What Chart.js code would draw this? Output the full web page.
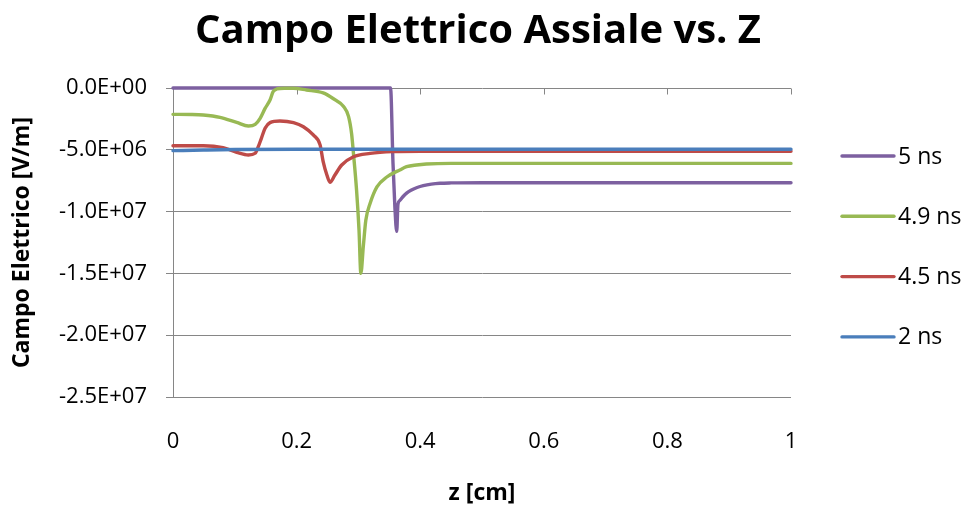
<!DOCTYPE html>
<html>
<head>
<meta charset="utf-8">
<script src="https://cdn.jsdelivr.net/npm/chart.js@4.4.0/dist/chart.umd.min.js"></script>
<style>
  html, body { margin: 0; padding: 0; background: #ffffff; }
  canvas { display: block; }
</style>
</head>
<body>
<canvas id="chart" width="966" height="508"></canvas>
<script>
// Axial electric field along z at four time instants
const seriesNames  = ['5 ns', '4.9 ns', '4.5 ns', '2 ns'];
const seriesColors = ['#7D60A0', '#98B954', '#BE4B48', '#4A7EBB'];

// t = 5 ns
const z5 = [0, 0.352, 0.356, 0.359, 0.362, 0.364, 0.367, 0.372, 0.378, 0.386, 0.395, 0.405, 0.418, 0.432, 0.45, 0.5, 0.6, 0.8, 1];
const e5 = [0, 0, -6.1e6, -9.6e6, -11.6e6, -9.4e6, -9.1e6, -8.8e6, -8.5e6, -8.25e6, -8.05e6, -7.9e6, -7.78e6, -7.71e6, -7.68e6, -7.66e6, -7.66e6, -7.66e6, -7.66e6];

// t = 4.9 ns
const z49 = [0, 0.03, 0.049, 0.076, 0.103, 0.122, 0.133, 0.141, 0.149, 0.157,
             0.162, 0.168, 0.18, 0.195, 0.216, 0.243, 0.259, 0.276, 0.284, 0.289,
             0.292, 0.297, 0.301, 0.304, 0.308, 0.312, 0.319, 0.33, 0.346, 0.367,
             0.378, 0.394, 0.41, 0.45, 0.5, 0.6, 0.8, 1];
const e49 = [-2.13e6, -2.14e6, -2.18e6, -2.37e6, -2.78e6, -3.07e6, -2.94e6, -2.45e6, -1.65e6, -0.97e6,
             -0.3e6, -0.08e6, -0.02e6, -0.02e6, -0.16e6, -0.4e6, -0.85e6, -1.5e6, -2.3e6, -3.7e6,
             -5.3e6, -8.25e6, -11.5e6, -15.0e6, -12.8e6, -10.7e6, -9.33e6, -8.0e6, -7.2e6, -6.63e6,
             -6.37e6, -6.23e6, -6.15e6, -6.1e6, -6.1e6, -6.1e6, -6.1e6, -6.1e6];

// t = 4.5 ns
const z45 = [0, 0.049, 0.081, 0.103, 0.122, 0.133, 0.138, 0.143, 0.149, 0.157,
             0.173, 0.195, 0.211, 0.227, 0.238, 0.243, 0.249, 0.254, 0.262, 0.273,
             0.292, 0.319, 0.356, 0.4, 0.5, 0.6, 0.8, 1];
const e45 = [-4.67e6, -4.67e6, -4.83e6, -5.2e6, -5.42e6, -5.28e6, -4.75e6, -4.07e6, -3.26e6, -2.8e6,
             -2.67e6, -2.8e6, -3.13e6, -3.8e6, -4.6e6, -5.96e6, -7.04e6, -7.63e6, -7.04e6, -6.23e6,
             -5.56e6, -5.29e6, -5.15e6, -5.12e6, -5.12e6, -5.12e6, -5.12e6, -5.12e6];

// t = 2 ns
const z2 = [0, 0.049, 0.1, 0.2, 0.4, 0.6, 0.8, 1];
const e2 = [-5.07e6, -5.02e6, -4.98e6, -4.96e6, -4.96e6, -4.96e6, -4.96e6, -4.96e6];

const xTickValues = [0, 0.2, 0.4, 0.6, 0.8, 1];
const xTickLabels = ['0', '0.2', '0.4', '0.6', '0.8', '1'];
const yTickValues = [-2.5e7, -2.0e7, -1.5e7, -1.0e7, -5.0e6, 0];
const yTickLabels = ['-2.5E+07', '-2.0E+07', '-1.5E+07', '-1.0E+07', '-5.0E+06', '0.0E+00'];

const titleText  = 'Campo Elettrico Assiale vs. Z';
const xTitleText = 'z [cm]';
const yTitleText = 'Campo Elettrico [V/m]';

const FONT = '"Open Sans", "Liberation Sans", sans-serif';
const GRID = '#868686';

Chart.defaults.font.family = FONT;
Chart.defaults.color = '#000000';

function points(zs, es) {
  return zs.map((z, i) => ({ x: z, y: es[i] }));
}

const seriesZ = [z5, z49, z45, z2];
const seriesE = [e5, e49, e45, e2];
// later datasets are painted underneath, so 2 ns ends up on top
const drawOrder = [3, 2, 1, 0];

const datasets = seriesNames.map((name, i) => ({
  label: name,
  data: points(seriesZ[i], seriesE[i]),
  borderColor: seriesColors[i],
  backgroundColor: seriesColors[i],
  borderWidth: 3.4,
  pointRadius: 0,
  fill: false,
  clip: false,
  cubicInterpolationMode: 'monotone',
  borderCapStyle: 'round',
  borderJoinStyle: 'round',
  order: drawOrder[i]
}));

// Chart title
const titlePlugin = {
  id: 'chartTitle',
  afterDraw(chart) {
    const { ctx, chartArea } = chart;
    ctx.save();
    ctx.font = 'bold 40px ' + FONT;
    ctx.fillStyle = '#000';
    ctx.textAlign = 'center';
    ctx.textBaseline = 'alphabetic';
    ctx.fillText(titleText, (chartArea.left + chartArea.right) / 2 - 4, 43);
    ctx.restore();
  }
};

// Tick marks on the horizontal axis line, which crosses at E = 0
const topTicksPlugin = {
  id: 'topTicks',
  beforeDatasetsDraw(chart) {
    const { ctx, scales } = chart;
    const yPix = Math.round(scales.y.getPixelForValue(0)) + 0.5;
    ctx.save();
    ctx.strokeStyle = GRID;
    ctx.lineWidth = 1;
    ctx.beginPath();
    xTickValues.forEach(v => {
      const xPix = Math.round(scales.x.getPixelForValue(v)) + 0.5;
      ctx.moveTo(xPix, yPix);
      ctx.lineTo(xPix, yPix + 6);
    });
    ctx.stroke();
    ctx.restore();
  }
};

// Legend column on the right
const legendPlugin = {
  id: 'sideLegend',
  afterDraw(chart) {
    const { ctx, chartArea } = chart;
    ctx.save();
    ctx.font = '23px ' + FONT;
    ctx.textAlign = 'left';
    ctx.textBaseline = 'middle';
    ctx.lineCap = 'round';
    seriesNames.forEach((name, i) => {
      const y = chartArea.top + 68 + i * 60.3;
      const x0 = chartArea.right + 51;
      ctx.strokeStyle = seriesColors[i];
      ctx.lineWidth = 3.4;
      ctx.beginPath();
      ctx.moveTo(x0, y);
      ctx.lineTo(x0 + 52, y);
      ctx.stroke();
      ctx.fillStyle = '#000';
      ctx.fillText(name, x0 + 56, y + 1);
    });
    ctx.restore();
  }
};

new Chart(document.getElementById('chart'), {
  type: 'line',
  data: { datasets },
  plugins: [titlePlugin, topTicksPlugin, legendPlugin],
  options: {
    responsive: false,
    animation: false,
    devicePixelRatio: 1,
    layout: { padding: { top: 88, right: 175, bottom: 0, left: 0 } },
    plugins: {
      legend: { display: false },
      title: { display: false },
      tooltip: { enabled: false }
    },
    scales: {
      x: {
        type: 'linear',
        min: 0,
        max: 1,
        afterBuildTicks: s => { s.ticks = xTickValues.map(v => ({ value: v })); },
        afterFit: s => { s.height = 111; },
        grid: { display: false },
        border: { display: false },
        ticks: {
          padding: 24,
          maxRotation: 0,
          font: { size: 22 },
          color: '#000',
          callback: v => xTickLabels[xTickValues.indexOf(v)]
        },
        title: {
          display: true,
          text: xTitleText,
          font: { size: 23, weight: 'bold' },
          color: '#000',
          padding: { top: 0, bottom: 1 }
        }
      },
      y: {
        type: 'linear',
        min: -2.5e7,
        max: 0,
        afterBuildTicks: s => { s.ticks = yTickValues.map(v => ({ value: v })); },
        afterFit: s => { s.width = 173; },
        grid: { color: GRID, lineWidth: 1, tickLength: 7, drawTicks: true },
        border: { display: true, color: GRID, width: 1 },
        ticks: {
          padding: 19,
          font: { size: 22 },
          color: '#000',
          callback: v => yTickLabels[yTickValues.indexOf(v)]
        },
        title: {
          display: true,
          text: yTitleText,
          font: { size: 23, weight: 'bold' },
          color: '#000',
          padding: { top: 9, bottom: 0 }
        }
      }
    }
  }
});
</script>
</body>
</html>
